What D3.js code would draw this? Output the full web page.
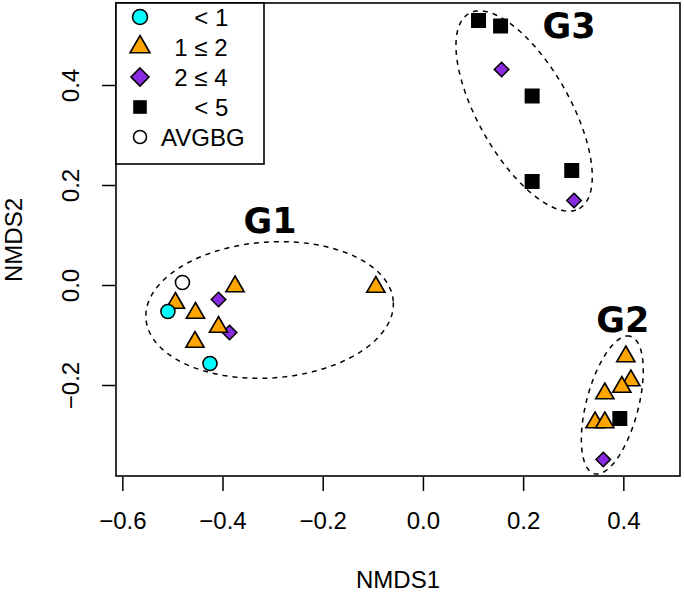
<!DOCTYPE html>
<html>
<head>
<meta charset="utf-8">
<script src="https://cdn.jsdelivr.net/npm/d3@7"></script>
<style>
  body { margin: 0; background: white; }
  text { font-family: "Liberation Sans", Arial, sans-serif; }
</style>
</head>
<body>
<svg id="grafica" width="684" height="594"></svg>
<script>
// puntos NMDS (orden de dibujo: rombos, triangulos, cuadrados, circulos)
let nmds1 = [-0.408, -0.386, 0.360, 0.157, 0.3016,
             -0.494, -0.454, -0.375, -0.455, -0.408, -0.094,
             0.405, 0.415, 0.363, 0.397, 0.3435, 0.363,
             0.393, 0.111, 0.155, 0.218, 0.297, 0.218,
             -0.509, -0.425,
             -0.480];
let nmds2 = [-0.029, -0.095, -0.349, 0.431, 0.169,
             -0.036, -0.056, -0.003, -0.114, -0.084, -0.004,
             -0.143, -0.191, -0.217, -0.204, -0.275, -0.275,
             -0.267, 0.529, 0.518, 0.378, 0.229, 0.207,
             -0.053, -0.157,
             0.005];
let clase = [2, 2, 2, 2, 2,
             1, 1, 1, 1, 1, 1,
             1, 1, 1, 1, 1, 1,
             3, 3, 3, 3, 3, 3,
             0, 0,
             4];

let etiquetas = ["     < 1", "  1 \u2264 2", "  2 \u2264 4", "     < 5", "AVGBG"];
let colores = ["#00FFFF", "#FFA500", "#8A2BE2", "#000000", "#FFFFFF"];
let formas = ["circulo", "triangulo", "rombo", "cuadrado", "circulo"];

// elipses de grupo (centro, semiejes y angulo en unidades NMDS)
let grupos = ["G1", "G2", "G3"];
let elipCx = [-0.306, 0.378, 0.202];
let elipCy = [-0.050, -0.240, 0.348];
let elipA = [0.2475, 0.142, 0.224];
let elipB = [0.136, 0.052, 0.092];
let elipAng = [4, 75.4, -60.6];
let grupoX = [-0.305, 0.399, 0.2916];
let grupoY = [0.104, -0.093, 0.495];

let xticks = [-0.6, -0.4, -0.2, 0.0, 0.2, 0.4];
let yticks = [-0.2, 0.0, 0.2, 0.4];

let margen = {"left": 116, "right": 4, "top": 3, "bottom": 118};
let ancho = 684, alto = 594;

let xscale = d3.scaleLinear().domain([-0.6126, 0.5131]).range([margen.left, ancho - margen.right]);
let yscale = d3.scaleLinear().domain([-0.382, 0.564]).range([alto - margen.bottom, margen.top]);

let svg = d3.select("#grafica");

function simbolo(forma, s) {
    if (forma == "circulo") {
        return d3.symbol().type(d3.symbolCircle).size(Math.PI * s * s)();
    }
    if (forma == "triangulo") {
        let h = s * Math.sqrt(3) / 2;
        return "M0," + (-s) + "L" + h + "," + (s / 2) + "L" + (-h) + "," + (s / 2) + "Z";
    }
    if (forma == "rombo") {
        return "M0," + (-s) + "L" + s + ",0L0," + s + "L" + (-s) + ",0Z";
    }
    return "M" + (-s) + "," + (-s) + "H" + s + "V" + s + "H" + (-s) + "Z";
}

let tamano = [7, 10.5, 7.2, 7.5, 7];
let tamanoLeyenda = [7.5, 11.5, 9, 6.8, 6.5];

// elipses
let linea = d3.line().x(p => xscale(p[0])).y(p => yscale(p[1]));

grupos.forEach(function(g, i) {
    let fi = elipAng[i] * Math.PI / 180;
    let pts = d3.range(0, 361, 3).map(function(t) {
        let a = t * Math.PI / 180;
        let ex = elipA[i] * Math.cos(a), ey = elipB[i] * Math.sin(a);
        return [elipCx[i] + ex * Math.cos(fi) - ey * Math.sin(fi),
                elipCy[i] + ex * Math.sin(fi) + ey * Math.cos(fi)];
    });
    svg.append("path")
        .attr("d", linea(pts))
        .style("fill", "none")
        .style("stroke", "black")
        .style("stroke-width", 1.5)
        .style("stroke-dasharray", "5 5");

    svg.append("text")
        .attr("x", xscale(grupoX[i]))
        .attr("y", yscale(grupoY[i]))
        .text(g)
        .style("font-family", "'DejaVu Sans', sans-serif")
        .style("font-weight", "bold")
        .style("font-size", "35px")
        .style("text-anchor", "middle");
});

// puntos
svg.selectAll(".punto")
    .data(nmds1)
    .enter()
    .append("path")
    .attr("class", "punto")
    .attr("transform", (d, i) => "translate(" + xscale(d) + "," + yscale(nmds2[i]) + ")")
    .attr("d", (d, i) => simbolo(formas[clase[i]], tamano[clase[i]]))
    .style("fill", (d, i) => colores[clase[i]])
    .style("stroke", "black")
    .style("stroke-width", (d, i) => clase[i] == 3 ? 0 : 1.6);

// ejes
let ejeX = svg.append("g")
    .attr("transform", "translate(0," + (alto - margen.bottom) + ")")
    .call(d3.axisBottom(xscale).tickValues(xticks).tickSize(15).tickPadding(0)
        .tickFormat(d => d3.format(".1f")(d).replace("-", "\u2212")));
ejeX.select(".domain").remove();
ejeX.selectAll("line").style("stroke-width", 1.5).attr("y1", 1);
ejeX.selectAll("text")
    .attr("y", 53)
    .attr("dy", null)
    .style("font-size", "24px")
    .style("font-family", "'Liberation Sans', Arial, sans-serif");

let ejeY = svg.append("g")
    .attr("transform", "translate(" + margen.left + ",0)")
    .call(d3.axisLeft(yscale).tickValues(yticks).tickSize(14)
        .tickFormat(d => d3.format(".1f")(d).replace("-", "\u2212")));
ejeY.select(".domain").remove();
ejeY.selectAll("line").style("stroke-width", 1.5).attr("x1", -1);
ejeY.selectAll("text")
    .attr("x", null)
    .attr("dy", null)
    .attr("transform", "translate(-37,0) rotate(-90)")
    .style("text-anchor", "middle")
    .style("font-size", "24px")
    .style("font-family", "'Liberation Sans', Arial, sans-serif");

// marco
svg.append("rect")
    .attr("x", margen.left)
    .attr("y", margen.top)
    .attr("width", ancho - margen.left - margen.right)
    .attr("height", alto - margen.top - margen.bottom)
    .style("fill", "none")
    .style("stroke", "black")
    .style("stroke-width", 1.6);

svg.append("text")
    .attr("x", (margen.left + ancho - margen.right) / 2)
    .attr("y", 588)
    .text("NMDS1")
    .style("text-anchor", "middle")
    .style("font-size", "24px");

svg.append("text")
    .attr("transform", "translate(22,240) rotate(-90)")
    .text("NMDS2")
    .style("text-anchor", "middle")
    .style("font-size", "24px");

// leyenda
let leyenda = svg.append("g");
leyenda.append("rect")
    .attr("x", margen.left)
    .attr("y", margen.top)
    .attr("width", 148)
    .attr("height", 161)
    .style("fill", "white")
    .style("stroke", "black")
    .style("stroke-width", 1.6);

leyenda.selectAll(".item")
    .data(etiquetas)
    .enter()
    .append("g")
    .attr("class", "item")
    .attr("transform", (d, i) => "translate(0," + (17 + i * 30) + ")")
    .each(function(d, i) {
        d3.select(this).append("path")
            .attr("transform", "translate(140,0)")
            .attr("d", simbolo(formas[i], tamanoLeyenda[i]))
            .style("fill", colores[i])
            .style("stroke", "black")
            .style("stroke-width", i == 3 ? 0 : 1.6);
        d3.select(this).append("text")
            .attr("x", 161)
            .attr("y", 8.5)
            .text(d)
            .style("white-space", "pre")
            .style("font-size", "24px");
    });
</script>
</body>
</html>
